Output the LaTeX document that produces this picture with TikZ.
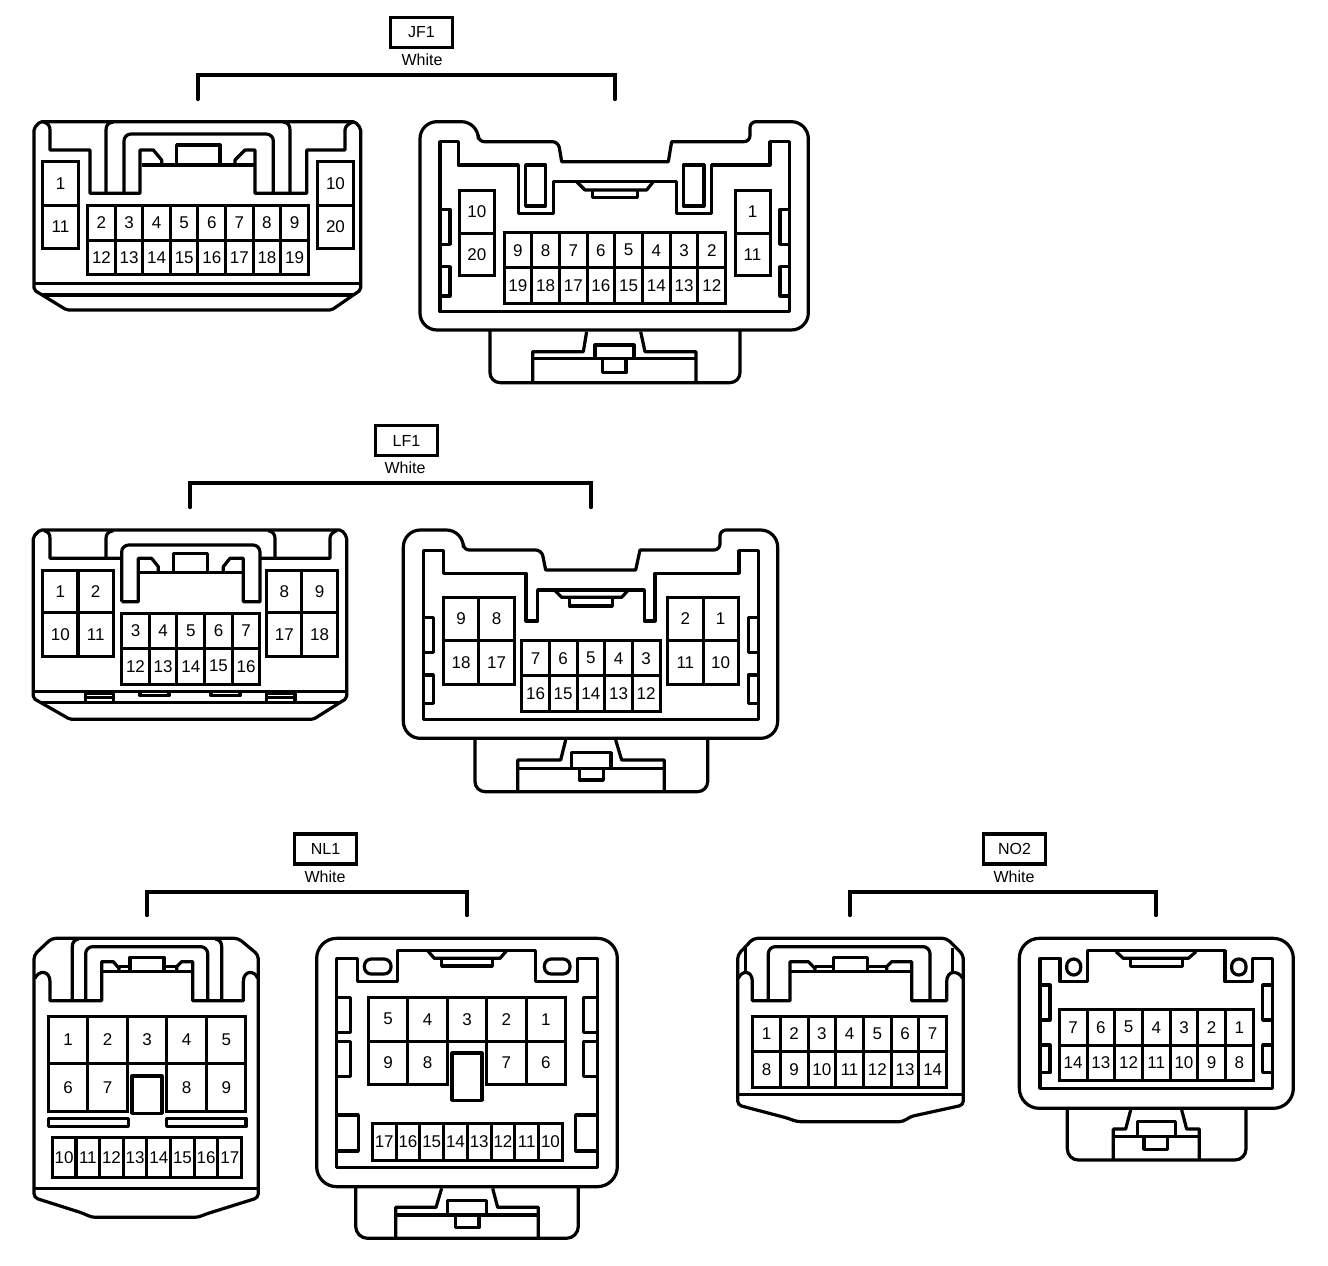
\documentclass[tikz,border=0pt]{standalone}
\usepackage{fontspec}
\setmainfont{Liberation Sans}
\newcommand{\pinrow}[6]{%
  \foreach \pinno [count=\pinidx] in {#6}
    \node (#1\pinno) at ({#2+(\pinidx-0.5)*#4},#3) [cavity,minimum width={#4pt/3},minimum height={#5pt/3}] {\pinno};}
\begin{document}
\begin{tikzpicture}[x=1pt,y=-1pt]
        \tikzstyle{cavity}=[rectangle,draw,line width=3pt,inner sep=0pt,font=\fontsize{17}{17}\selectfont]
        \tikzstyle{tag}=[rectangle,draw,line width=3.2pt,inner sep=0pt,minimum width=62pt,minimum height=30pt,font=\fontsize{16}{16}\selectfont]
        \tikzstyle{colourname}=[inner sep=0pt,font=\fontsize{16}{16}\selectfont]
        \tikzstyle{bracket}=[line width=3.2pt,line cap=round]
        \tikzstyle{housing}=[line width=3.2pt,line join=round]
        \useasboundingbox (0,0) rectangle (1328,1266);
        % JF1
        \node (JF1) at (421.5,32.5) [tag] {JF1};
        \node (JF1w) at (422,60) [colourname] {White};
        \coordinate (JF1a) at (198,99.5);
        \coordinate (JF1top) at (406,75);
        \coordinate (JF1b) at (615,99.5);
        \draw [bracket] (JF1a) |- (JF1top) -| (JF1b);
        \begin{scope}[shift={(20,110)},scale=1/3]
          \draw [housing,rounded corners=2pt] (42,300) -- (42,55) -- (60,35) -- (1005,35) -- (1022,55) -- (1022,540) -- (935,600) -- (140,600) -- (42,540) -- cycle;
          \draw [housing] (42,520) -- (1022,520);
          \draw [housing] (66,555) -- (998,555);
          \draw [housing] (70,36) .. controls (85,40) and (90,48) .. (90,60) -- (90,120) -- (210,120) -- (210,250) -- (360,250) -- (360,120) -- (400,120) -- (425,150) -- (425,165);
          \draw [housing] (365,165) -- (705,165);
          \draw [housing] (470,165) -- (470,105) -- (600,105) -- (600,165);
          \draw [housing] (645,165) -- (645,150) -- (675,120) -- (705,120) -- (705,250) -- (860,250) -- (860,120) -- (975,120) -- (975,60) .. controls (975,50) and (985,40) .. (1000,36);
          \draw [housing] (258,250) -- (258,60) .. controls (258,45) and (265,38) .. (280,36);
          \draw [housing] (810,250) -- (810,60) .. controls (810,45) and (803,38) .. (790,36);
          \draw [housing,rounded corners=7pt] (312,250) -- (312,72) -- (760,72) -- (760,250);
          \pinrow{ja}{68}{221}{107}{133}{1}
          \pinrow{ja}{68}{351}{107}{130}{11}
          \pinrow{ja}{893}{221}{107}{133}{10}
          \pinrow{ja}{893}{351}{107}{130}{20}
          \pinrow{ja}{203}{338.5}{82.75}{104}{2,3,4,5,6,7,8,9}
          \pinrow{ja}{203}{442.5}{82.75}{104}{12,13,14,15,16,17,18,19}
        \end{scope}
        \begin{scope}[shift={(410,110)},scale=1/3]
          \draw [housing,rounded corners=17pt] (30,300) -- (30,35) -- (205,35) [rounded corners=6pt] -- (205,95) -- (445,95) [sharp corners] -- (455,155) -- (775,155) -- (785,95) [rounded corners=6pt] -- (1020,95) -- (1020,35) [rounded corners=17pt] -- (1195,35) -- (1195,660) -- (30,660) -- cycle;
          \draw [housing] (90,95) -- (145,95) -- (145,165) -- (325,165) -- (325,310) -- (430,310) -- (430,215) -- (800,215) -- (800,310) -- (905,310) -- (905,165) -- (1080,165) -- (1080,95) -- (1138,95) -- (1138,605) -- (90,605) -- cycle;
          \draw [housing] (347,165) rectangle (407,288);
          \draw [housing] (820,165) rectangle (882,288);
          \draw [housing] (500,215) -- (525,240) -- (710,240) -- (730,215);
          \draw [housing] (548,240) -- (548,263) -- (682,263) -- (682,240);
          \draw [housing] (90,298) -- (120,298) -- (120,403) -- (90,403);
          \draw [housing] (90,470) -- (120,470) -- (120,558) -- (90,558);
          \draw [housing] (1138,298) -- (1110,298) -- (1110,403) -- (1138,403);
          \draw [housing] (1138,470) -- (1110,470) -- (1110,558) -- (1138,558);
          \draw [housing,rounded corners=10pt] (240,660) -- (240,818) -- (990,818) -- (990,660);
          \draw [housing] (530,665) -- (520,725) -- (368,725) -- (368,816);
          \draw [housing] (368,745) -- (858,745);
          \draw [housing] (858,816) -- (858,725) -- (705,725) -- (692,665);
          \draw [housing] (555,745) -- (555,705) -- (672,705) -- (672,745);
          \draw [housing] (578,745) -- (578,788) -- (648,788) -- (648,745);
          \pinrow{jb}{148}{305}{105}{130}{10}
          \pinrow{jb}{148}{433.5}{105}{127}{20}
          \pinrow{jb}{975}{305}{105}{130}{1}
          \pinrow{jb}{975}{433.5}{105}{127}{11}
          \pinrow{jb}{282}{420.5}{83.1}{105}{9,8,7,6,5,4,3,2}
          \pinrow{jb}{282}{526.5}{83.1}{107}{19,18,17,16,15,14,13,12}
        \end{scope}
        % LF1
        \node (LF1) at (406.5,440.5) [tag] {LF1};
        \node (LF1w) at (405,468) [colourname] {White};
        \coordinate (LF1a) at (190,507.5);
        \coordinate (LF1top) at (390,483);
        \coordinate (LF1b) at (591,507.5);
        \draw [bracket] (LF1a) |- (LF1top) -| (LF1b);
        \begin{scope}[shift={(20,520)},scale=1/3]
          \draw [housing,rounded corners=2pt] (40,300) -- (40,50) -- (60,30) -- (965,30) -- (980,50) -- (980,535) -- (880,598) -- (150,598) -- (40,535) -- cycle;
          \draw [housing] (40,515) -- (980,515);
          \draw [housing] (61,547) -- (960,547);
          \draw [housing] (72,32) .. controls (85,35) and (90,42) .. (90,55) -- (90,115) -- (305,115);
          \draw [housing] (258,115) -- (258,55) .. controls (258,42) and (265,35) .. (280,32);
          \draw [housing] (765,115) -- (765,55) .. controls (765,42) and (758,35) .. (745,32);
          \draw [housing] (720,115) -- (930,115) -- (930,55) .. controls (930,45) and (937,37) .. (950,32);
          \draw [housing,rounded corners=7pt] (305,245) [sharp corners] -- (305,160) [rounded corners=7pt] -- (305,75) -- (720,75) -- (720,160) [sharp corners] -- (720,245) -- (670,245) -- (670,115) -- (630,115) -- (610,140) -- (610,158);
          \draw [housing] (305,245) -- (355,245) -- (355,115) -- (395,115) -- (415,140) -- (415,158);
          \draw [housing] (355,158) -- (670,158);
          \draw [housing] (460,158) -- (460,100) -- (562,100) -- (562,158);
          \draw [housing] (197,520) rectangle (280,547);
          \draw [housing] (197,532) -- (280,532);
          \draw [housing] (740,520) rectangle (825,547);
          \draw [housing] (740,532) -- (825,532);
          \draw [housing] (360,517) -- (360,527) -- (447,527) -- (447,517);
          \draw [housing] (573,517) -- (573,527) -- (660,527) -- (660,517);
          \pinrow{la}{68}{214}{106}{128}{1,2}
          \pinrow{la}{68}{344}{106}{132}{10,11}
          \pinrow{la}{740}{214}{106}{128}{8,9}
          \pinrow{la}{740}{344}{106}{132}{17,18}
          \pinrow{la}{305}{332.5}{83}{105}{3,4,5,6,7}
          \pinrow{la}{305}{438.5}{83}{107}{12,13,14,15,16}
        \end{scope}
        \begin{scope}[shift={(395,520)},scale=1/3]
          \draw [housing,rounded corners=17pt] (25,300) -- (25,30) -- (205,30) [rounded corners=6pt] -- (205,90) -- (440,90) [sharp corners] -- (452,150) -- (722,150) -- (735,90) [rounded corners=6pt] -- (975,90) -- (975,30) [rounded corners=17pt] -- (1148,30) -- (1148,655) -- (25,655) -- cycle;
          \draw [housing] (85,92) -- (145,92) -- (145,160) -- (393,160) -- (393,303) -- (428,303) -- (428,210) -- (748,210) -- (748,303) -- (780,303) -- (780,160) -- (1032,160) -- (1032,92) -- (1090,92) -- (1090,598) -- (85,598) -- cycle;
          \draw [housing] (478,210) -- (500,232) -- (680,232) -- (700,210);
          \draw [housing] (523,232) -- (523,258) -- (652,258) -- (652,232);
          \draw [housing] (85,292) -- (115,292) -- (115,398) -- (85,398);
          \draw [housing] (85,465) -- (115,465) -- (115,550) -- (85,550);
          \draw [housing] (1090,292) -- (1060,292) -- (1060,398) -- (1090,398);
          \draw [housing] (1090,465) -- (1060,465) -- (1060,550) -- (1090,550);
          \draw [housing,rounded corners=10pt] (240,655) -- (240,815) -- (938,815) -- (938,655);
          \draw [housing] (512,660) -- (497,720) -- (368,720) -- (368,813);
          \draw [housing] (368,745) -- (808,745);
          \draw [housing] (808,813) -- (808,720) -- (680,720) -- (662,660);
          \draw [housing] (530,745) -- (530,698) -- (648,698) -- (648,745);
          \draw [housing] (553,745) -- (553,780) -- (625,780) -- (625,745);
          \pinrow{lb}{145}{297}{106.5}{130}{9,8}
          \pinrow{lb}{145}{427.5}{106.5}{131}{18,17}
          \pinrow{lb}{818}{297}{106}{130}{2,1}
          \pinrow{lb}{818}{427.5}{106}{131}{11,10}
          \pinrow{lb}{380}{414.5}{83}{105}{7,6,5,4,3}
          \pinrow{lb}{380}{521}{83}{108}{16,15,14,13,12}
        \end{scope}
        % NL1
        \node (NL1) at (325.5,849) [tag] {NL1};
        \node (NL1w) at (325,877) [colourname] {White};
        \coordinate (NL1a) at (147,915.5);
        \coordinate (NL1top) at (307,892);
        \coordinate (NL1b) at (467,915.5);
        \draw [bracket] (NL1a) |- (NL1top) -| (NL1b);
        \begin{scope}[shift={(20,930)},scale=1/3]
          \draw [housing,rounded corners=4pt] (42,300) -- (42,75) -- (95,25) -- (655,25) -- (715,75) -- (715,803) -- (555,853) -- (535,862) -- (215,862) -- (190,850) -- (42,803) -- cycle;
          \draw [housing] (42,775) -- (715,775);
          \draw [housing] (45,145) .. controls (55,120) and (90,120) .. (90,155) -- (90,212) -- (245,212) -- (245,95) -- (280,95) -- (297,115) -- (297,125);
          \draw [housing] (245,125) -- (520,125);
          \draw [housing] (330,125) -- (330,82) -- (432,82) -- (432,125);
          \draw [housing] (297,110) -- (330,110);
          \draw [housing] (432,110) -- (470,110);
          \draw [housing] (470,125) -- (470,110) -- (485,95) -- (518,95) -- (518,212) -- (670,212) -- (670,155) .. controls (670,120) and (705,120) .. (713,145);
          \draw [housing] (157,212) -- (157,50) .. controls (157,38) and (162,30) .. (175,27);
          \draw [housing] (605,212) -- (605,50) .. controls (605,38) and (600,30) .. (587,27);
          \draw [housing,rounded corners=7pt] (197,212) -- (197,50) -- (563,50) -- (563,212);
          \pinrow{na}{85}{329}{118.6}{142}{1,2,3,4,5}
          \pinrow{na}{85}{471.5}{118.6}{143}{6,7}
          \pinrow{na}{440.8}{471.5}{118.6}{143}{8,9}
          \draw [housing,fill=white] (336,438) rectangle (426,550);
          \draw [housing] (85,565) rectangle (325,590);
          \draw [housing] (440,565) rectangle (678,590);
          \pinrow{na}{97}{682.5}{71}{119}{10,11,12,13,14,15,16,17}
        \end{scope}
        \begin{scope}[shift={(305,930)},scale=1/3]
          \draw [housing,rounded corners=20pt] (35,300) -- (35,25) -- (937,25) -- (937,770) -- (35,770) -- cycle;
          \draw [housing] (95,85) -- (157,85) -- (157,155) -- (278,155) -- (278,62) -- (692,62) -- (692,155) -- (818,155) -- (818,85) -- (878,85) -- (878,712) -- (95,712) -- cycle;
          \draw [housing,rounded corners=7pt] (178,87) rectangle (258,132);
          \draw [housing,rounded corners=7pt] (718,87) rectangle (795,132);
          \draw [housing] (368,62) -- (388,85) -- (585,85) -- (605,62);
          \draw [housing] (410,85) -- (410,108) -- (562,108) -- (562,85);
          \draw [housing] (95,202) -- (137,202) -- (137,308) -- (95,308);
          \draw [housing] (95,335) -- (137,335) -- (137,440) -- (95,440);
          \draw [housing] (878,202) -- (835,202) -- (835,308) -- (878,308);
          \draw [housing] (878,335) -- (835,335) -- (835,440) -- (878,440);
          \draw [housing] (97,555) -- (160,555) -- (160,663) -- (97,663);
          \draw [housing] (876,555) -- (812,555) -- (812,663) -- (876,663);
          \draw [housing,rounded corners=12pt] (152,770) -- (152,925) -- (820,925) -- (820,770);
          \draw [housing] (410,775) -- (393,832) -- (272,832) -- (272,923);
          \draw [housing] (272,855) -- (700,855);
          \draw [housing] (700,923) -- (700,832) -- (578,832) -- (563,775);
          \draw [housing] (427,855) -- (427,812) -- (545,812) -- (545,855);
          \draw [housing] (452,855) -- (452,893) -- (522,893) -- (522,855);
          \pinrow{nb}{190}{267.5}{118.4}{131}{5,4,3,2,1}
          \pinrow{nb}{190}{398}{118.4}{130}{9,8}
          \pinrow{nb}{545}{398}{118.4}{130}{7,6}
          \draw [housing,fill=white] (441,369) rectangle (531,511);
          \pinrow{nb}{202}{635}{71.25}{110}{17,16,15,14,13,12,11,10}
        \end{scope}
        % NO2
        \node (NO2) at (1014.5,849) [tag] {NO2};
        \node (NO2w) at (1014,877) [colourname] {White};
        \coordinate (NO2a) at (850,915.5);
        \coordinate (NO2top) at (1003,892);
        \coordinate (NO2b) at (1156,915.5);
        \draw [bracket] (NO2a) |- (NO2top) -| (NO2b);
        \begin{scope}[shift={(725,930)},scale=1/3]
          \draw [housing,rounded corners=4pt] (38,300) -- (38,75) -- (85,25) -- (665,25) -- (715,75) -- (715,525) -- (555,560) -- (535,575) -- (215,575) -- (190,565) -- (38,525) -- cycle;
          \draw [housing] (38,493) -- (715,493);
          \draw [housing] (62,55) -- (62,125);
          \draw [housing] (683,55) -- (683,125);
          \draw [housing] (40,145) .. controls (50,120) and (82,120) .. (82,155) -- (82,212) -- (195,212) -- (195,95) -- (250,95) -- (270,115) -- (270,125);
          \draw [housing] (195,125) -- (555,125);
          \draw [housing] (325,125) -- (325,82) -- (428,82) -- (428,125);
          \draw [housing] (270,110) -- (325,110);
          \draw [housing] (428,110) -- (485,110);
          \draw [housing] (485,125) -- (485,110) -- (500,95) -- (560,95) -- (560,212) -- (665,212) -- (665,155) .. controls (665,120) and (700,120) .. (713,145);
          \draw [housing,rounded corners=7pt] (130,212) -- (130,50) -- (615,50) -- (615,212);
          \pinrow{oa}{83}{311.5}{83.1}{107}{1,2,3,4,5,6,7}
          \pinrow{oa}{83}{418.5}{83.1}{107}{8,9,10,11,12,13,14}
        \end{scope}
        \begin{scope}[shift={(1010,930)},scale=1/3]
          \draw [housing,rounded corners=20pt] (28,300) -- (28,25) -- (850,25) -- (850,535) -- (28,535) -- cycle;
          \draw [housing] (90,85) -- (150,85) -- (150,155) -- (233,155) -- (233,62) -- (645,62) -- (645,155) -- (728,155) -- (728,85) -- (788,85) -- (788,475) -- (90,475) -- cycle;
          \draw [housing,rounded corners=7pt] (170,87) rectangle (212,135);
          \draw [housing,rounded corners=7pt] (665,87) rectangle (708,135);
          \draw [housing] (318,65) -- (340,85) -- (535,85) -- (558,65);
          \draw [housing] (362,85) -- (362,110) -- (517,110) -- (517,85);
          \draw [housing] (90,165) -- (120,165) -- (120,270) -- (90,270);
          \draw [housing] (90,345) -- (120,345) -- (120,428) -- (90,428);
          \draw [housing] (788,165) -- (758,165) -- (758,270) -- (788,270);
          \draw [housing] (788,345) -- (758,345) -- (758,428) -- (788,428);
          \draw [housing,rounded corners=11pt] (172,535) -- (172,690) -- (708,690) -- (708,535);
          \draw [housing] (362,540) -- (347,597) -- (310,597) -- (310,688);
          \draw [housing] (310,620) -- (568,620);
          \draw [housing] (568,688) -- (568,597) -- (530,597) -- (515,540);
          \draw [housing] (382,620) -- (382,575) -- (497,575) -- (497,620);
          \draw [housing] (402,620) -- (402,658) -- (472,658) -- (472,620);
          \pinrow{ob}{148}{291.5}{83.1}{107}{7,6,5,4,3,2,1}
          \pinrow{ob}{148}{397.5}{83.1}{105}{14,13,12,11,10,9,8}
        \end{scope}
      \end{tikzpicture}
\end{document}
